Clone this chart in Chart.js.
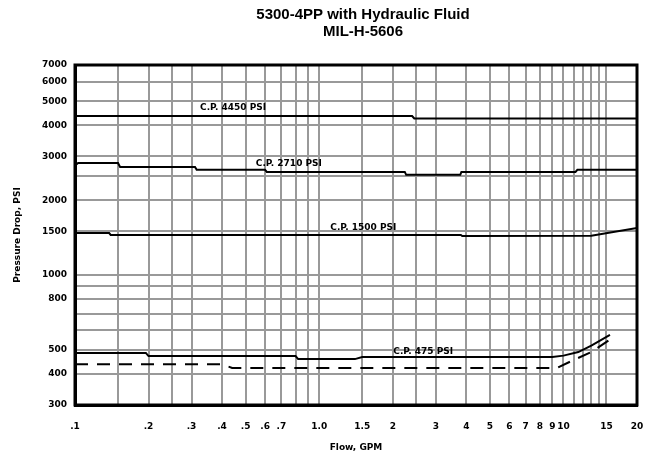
<!DOCTYPE html>
<html>
<head>
<meta charset="utf-8">
<script src="https://cdn.jsdelivr.net/npm/chart.js@4.4.1/dist/chart.umd.min.js"></script>
<style>
  html, body { margin: 0; padding: 0; background: #fff; }
  #wrap { position: relative; width: 650px; height: 462px; }
</style>
</head>
<body>
<div id="wrap"><canvas id="flowChart"></canvas></div>
<script>
// Axis ticks (gridlines) and their labels
const xTickValues = [0.1, 0.15, 0.2, 0.25, 0.3, 0.4, 0.5, 0.6, 0.7, 0.8, 0.9, 1, 1.5, 2, 2.5, 3, 4, 5, 6, 7, 8, 9, 10, 11, 12, 13, 14, 15, 20];
const xTickLabels = ['.1', '', '.2', '', '.3', '.4', '.5', '.6', '.7', '', '', '1.0', '1.5', '2', '', '3', '4', '5', '6', '7', '8', '9', '10', '', '', '', '', '15', '20'];
const yTickValues = [300, 400, 500, 600, 700, 800, 900, 1000, 1500, 2000, 2500, 3000, 4000, 5000, 6000, 7000];
const yTickLabels = ['300', '400', '500', '', '', '800', '', '1000', '1500', '2000', '', '3000', '4000', '5000', '6000', '7000'];

// C.P. 4450 PSI
const cp4450Flow = [0.1, 2.4, 2.45, 20];
const cp4450Drop = [4365, 4365, 4265, 4265];
// C.P. 2710 PSI
const cp2710Flow = [0.1, 0.103, 0.15, 0.153, 0.31, 0.315, 0.6, 0.61, 2.24, 2.27, 3.78, 3.82, 11.2, 11.4, 20];
const cp2710Drop = [2760, 2825, 2825, 2723, 2723, 2650, 2650, 2600, 2600, 2530, 2530, 2600, 2600, 2650, 2650];
// C.P. 1500 PSI
const cp1500Flow = [0.1, 0.138, 0.14, 3.8, 3.85, 13, 20];
const cp1500Drop = [1476, 1476, 1450, 1450, 1436, 1440, 1545];
// C.P. 475 PSI (solid)
const cp475Flow = [0.1, 0.195, 0.2, 0.8, 0.82, 1.4, 1.5, 9, 10, 11.5, 13, 15.5];
const cp475Drop = [486, 486, 472, 472, 459, 459, 468, 468, 474, 490, 520, 574];
// dashed curve
const dashFlow = [0.1, 0.4, 0.44, 9.4, 11, 13, 15.5];
const dashDrop = [438, 438, 423, 423, 455, 490, 550];

const toPoints = (xs, ys) => xs.map((x, i) => ({ x: x, y: ys[i] }));

// Line labels, placed in data units
const curveLabels = [
    { text: 'C.P. 4450 PSI', x: 0.325, y: 4700 },
    { text: 'C.P. 2710 PSI', x: 0.55, y: 2800 },
    { text: 'C.P. 1500 PSI', x: 1.11, y: 1545 },
    { text: 'C.P. 475 PSI', x: 2.01, y: 490 }
];

const labelFont = '"DejaVu Sans", sans-serif';

const frameAndLabels = {
    id: 'frameAndLabels',
    afterDraw(chart) {
        const ctx = chart.ctx;
        const a = chart.chartArea;
        const xs = chart.scales.x;
        const ys = chart.scales.y;
        ctx.save();
        // curve labels
        ctx.fillStyle = '#000';
        ctx.font = 'bold 9px ' + labelFont;
        ctx.textBaseline = 'middle';
        ctx.textAlign = 'left';
        curveLabels.forEach(l => {
            ctx.fillText(l.text, xs.getPixelForValue(l.x), ys.getPixelForValue(l.y));
        });
        // title
        const cx = (a.left + a.right) / 2 + 7;
        ctx.textAlign = 'center';
        ctx.font = 'bold 15px "Liberation Sans", Arial, sans-serif';
        ctx.fillText('5300-4PP with Hydraulic Fluid', cx, 15);
        ctx.fillText('MIL-H-5606', cx, 32);
        // frame
        ctx.strokeStyle = '#000';
        ctx.lineWidth = 3;
        ctx.strokeRect(a.left, a.top, a.right - a.left, a.bottom - a.top);
        ctx.restore();
    }
};

const lineStyle = {
    borderColor: '#000',
    borderWidth: 2,
    pointRadius: 0,
    tension: 0,
    fill: false
};

const tickFont = { family: labelFont, size: 9, weight: 'bold' };

const flowCtx = document.getElementById('flowChart').getContext('2d');
new Chart(flowCtx, {
    type: 'line',
    data: {
        datasets: [
            { ...lineStyle, label: 'C.P. 4450 PSI', data: toPoints(cp4450Flow, cp4450Drop) },
            { ...lineStyle, label: 'C.P. 2710 PSI', data: toPoints(cp2710Flow, cp2710Drop) },
            { ...lineStyle, label: 'C.P. 1500 PSI', data: toPoints(cp1500Flow, cp1500Drop) },
            { ...lineStyle, label: 'C.P. 475 PSI', data: toPoints(cp475Flow, cp475Drop) },
            { ...lineStyle, label: 'C.P. 475 PSI (dashed)', borderDash: [13, 9], data: toPoints(dashFlow, dashDrop) }
        ]
    },
    options: {
        responsive: true,
        maintainAspectRatio: false,
        animation: false,
        layout: {
            padding: { top: 65, right: 13, bottom: 0, left: 0 }
        },
        plugins: {
            legend: { display: false },
            tooltip: { enabled: false },
            title: { display: false }
        },
        scales: {
            x: {
                type: 'logarithmic',
                min: 0.1,
                max: 20,
                afterBuildTicks: scale => {
                    scale.ticks = xTickValues.map(v => ({ value: v }));
                },
                afterFit: scale => {
                    scale.height = 57;
                    scale.paddingLeft = 0;
                    scale.paddingRight = 0;
                },
                grid: { color: '#999', lineWidth: 2, drawTicks: false },
                border: { display: true, color: '#000', width: 3 },
                ticks: {
                    autoSkip: false,
                    maxRotation: 0,
                    padding: 16,
                    color: '#000',
                    font: tickFont,
                    callback: value => {
                        const i = xTickValues.indexOf(value);
                        return i >= 0 ? xTickLabels[i] : '';
                    }
                },
                title: {
                    display: true,
                    text: 'Flow, GPM',
                    color: '#000',
                    padding: { top: 0, bottom: 9 },
                    font: tickFont
                }
            },
            y: {
                type: 'logarithmic',
                min: 300,
                max: 7000,
                afterBuildTicks: scale => {
                    scale.ticks = yTickValues.map(v => ({ value: v }));
                },
                afterFit: scale => {
                    scale.width = 75;
                    scale.paddingTop = 0;
                    scale.paddingBottom = 0;
                },
                grid: { color: '#999', lineWidth: 2, drawTicks: false },
                border: { display: true, color: '#000', width: 3 },
                ticks: {
                    autoSkip: false,
                    padding: 8,
                    color: '#000',
                    font: tickFont,
                    callback: value => {
                        const i = yTickValues.indexOf(value);
                        return i >= 0 ? yTickLabels[i] : '';
                    }
                },
                title: {
                    display: true,
                    text: 'Pressure Drop, PSI',
                    color: '#000',
                    padding: { top: 12, bottom: 0 },
                    font: tickFont
                }
            }
        }
    },
    plugins: [frameAndLabels]
});
</script>
</body>
</html>
